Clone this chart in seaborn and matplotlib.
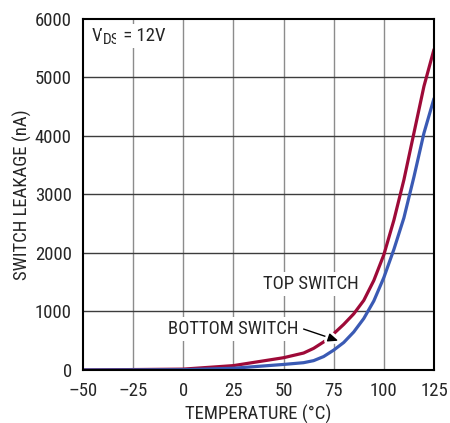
import matplotlib
matplotlib.use("Agg")
import matplotlib.pyplot as plt
import matplotlib.patheffects as pe
from matplotlib import font_manager as fm
from matplotlib.transforms import offset_copy
import seaborn as sns
import pandas as pd

# ---- data ----
top_temp = [-50, 0, 25, 50, 60, 65, 70, 75, 80, 85, 90, 95, 100, 105, 110, 115, 120, 125]
top_leak = [0, 15, 75, 210, 290, 370, 480, 620, 780, 960, 1190, 1530, 1970, 2560, 3250, 4050, 4850, 5480]

bot_temp = [-50, 0, 25, 50, 60, 65, 70, 75, 80, 85, 90, 95, 100, 105, 110, 115, 120, 125]
bot_leak = [0, 5, 30, 95, 125, 160, 230, 340, 470, 650, 880, 1180, 1580, 2060, 2600, 3300, 4050, 4640]

x_ticks = [-50, -25, 0, 25, 50, 75, 100, 125]
x_tick_labels = ["–50", "–25", "0", "25", "50", "75", "100", "125"]
y_ticks = [0, 1000, 2000, 3000, 4000, 5000, 6000]
y_tick_labels = ["0", "1000", "2000", "3000", "4000", "5000", "6000"]

x_label = "TEMPERATURE (°C)"
y_label = "SWITCH LEAKAGE (nA)"
top_name = "TOP SWITCH"
bot_name = "BOTTOM SWITCH"
cond_parts = ["V", "DS", " = 12V"]

df_top = pd.DataFrame({"temp": top_temp, "leak": top_leak})
df_bot = pd.DataFrame({"temp": bot_temp, "leak": bot_leak})

sns.set_style("white")

# pick a condensed sans font if one is installed
names = {f.name for f in fm.fontManager.ttflist}
stretch = "normal"
family = None
for cand in ["Liberation Sans Narrow", "Arial Narrow", "Roboto Condensed", "Nimbus Sans Narrow",
             "Open Sans Condensed", "Noto Sans Condensed"]:
    if cand in names:
        family = cand
        break
if family is None:
    cond = [f for f in fm.fontManager.ttflist
            if str(f.stretch) in ("condensed", "semi-condensed", "extra-condensed", "75", "87")
            or "Condensed" in f.fname or "Narrow" in f.fname]
    if cond:
        family = cond[0].name
        stretch = "condensed"
narrow = family is not None
if family is None:
    family = "Liberation Sans"
plt.rcParams["font.family"] = [family, "DejaVu Sans"]
plt.rcParams["font.stretch"] = stretch
FS = 13.5 if narrow else 12

fig = plt.figure(figsize=(4.5, 4.23), dpi=100)
ax = fig.add_axes([0.1844, 0.1253, 0.78, 0.8298])

RED = "#9E0A38"
BLUE = "#3A5AB4"

sns.lineplot(data=df_top, x="temp", y="leak", ax=ax, color=RED, lw=2.3, zorder=3)
sns.lineplot(data=df_bot, x="temp", y="leak", ax=ax, color=BLUE, lw=2.3, zorder=5)

ax.set_xlim(-50, 125)
ax.set_ylim(0, 6000)
ax.set_xticks(x_ticks)
ax.set_xticklabels(x_tick_labels, fontsize=FS)
ax.set_yticks(y_ticks)
ax.set_yticklabels(y_tick_labels, fontsize=FS)
ax.tick_params(axis="both", length=0)
ax.tick_params(axis="x", pad=9)
ax.tick_params(axis="y", pad=8)

for x in x_ticks[1:-1]:
    ax.axvline(x, color="#8c8c8c", lw=1.0, zorder=1)
for y in y_ticks[1:-1]:
    ax.axhline(y, color="#3c3c3c", lw=1.0, zorder=1)

for s in ax.spines.values():
    s.set_color("black")
    s.set_linewidth(1.5)
    s.set_zorder(6)

ax.set_xlabel(x_label, fontsize=FS, labelpad=3)
ax.set_ylabel(y_label, fontsize=FS, labelpad=2)

bbox = dict(boxstyle="square,pad=0.15", fc="white", ec="none")

# V_DS = 12V built from pieces so the subscript is large like the reference
renderer = fig.canvas.get_renderer()
t1 = ax.text(-45.5, 5710, cond_parts[0], fontsize=FS, ha="left", va="center", bbox=bbox, zorder=4)
w1 = t1.get_window_extent(renderer).width
t2 = ax.text(-45.5, 5710, cond_parts[1], fontsize=FS * 0.82, ha="left", va="center", zorder=4,
             bbox=bbox, transform=offset_copy(ax.transData, fig=fig, x=w1, y=-4, units="dots"))
w2 = t2.get_window_extent(renderer).width
ax.text(-45.5, 5710, cond_parts[2], fontsize=FS, ha="left", va="center", zorder=4, bbox=bbox,
        transform=offset_copy(ax.transData, fig=fig, x=w1 + w2, y=0, units="dots"))

ax.text(63.7, 1470, top_name, fontsize=FS, ha="center", va="center", bbox=bbox, zorder=4)
ax.text(57.5, 700, bot_name, fontsize=FS, ha="right", va="center", bbox=bbox, zorder=4)

ax.annotate("", xy=(77.3, 500), xytext=(60, 700),
            arrowprops=dict(arrowstyle="-|>,head_length=0.6,head_width=0.25", color="black", lw=1.0,
                            shrinkA=0, shrinkB=0,
                            path_effects=[pe.withStroke(linewidth=5, foreground="white")]),
            zorder=4)

fig.savefig("out.png", dpi=100)
